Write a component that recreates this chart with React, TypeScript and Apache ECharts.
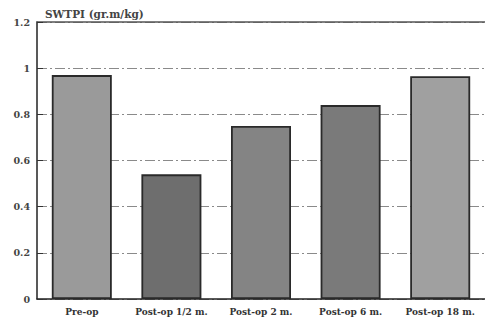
import React, { useEffect, useRef } from "react";
import * as echarts from "echarts";

const categories = ["Pre-op", "Post-op 1/2 m.", "Post-op 2 m.", "Post-op 6 m.", "Post-op 18 m."];
const values = [0.97, 0.54, 0.75, 0.84, 0.965];
const barColors = ["#9a9a9a", "#6e6e6e", "#848484", "#7a7a7a", "#a0a0a0"];
const yTicks = [0, 0.2, 0.4, 0.6, 0.8, 1, 1.2];
const yTitle = "SWTPI (gr.m/kg)";

export default function App() {
  const ref = useRef<HTMLDivElement>(null);
  useEffect(() => {
    const chart = echarts.init(ref.current!, null, { renderer: "svg" });
    chart.setOption({
      animation: false,
      backgroundColor: "#fff",
      grid: { left: 37, right: 0, top: 22, bottom: 23, containLabel: false },
      title: {
        text: yTitle,
        left: 40,
        top: 3,
        textStyle: { fontSize: 10.5, fontWeight: "bold", color: "#444", fontFamily: "DejaVu Serif" },
      },
      xAxis: [
        {
          type: "category",
          data: categories,
          axisLine: { lineStyle: { color: "#222", width: 1.5 } },
          axisTick: { show: false },
          axisLabel: {
            fontSize: 9,
            fontWeight: "bold",
            color: "#333",
            margin: 8,
            interval: 0,
            fontFamily: "DejaVu Serif",
          },
        },
        {
          type: "category",
          position: "top",
          data: categories,
          axisLine: { show: true, lineStyle: { color: "#555", width: 1.5 } },
          axisTick: { show: false },
          axisLabel: { show: false },
        },
      ],
      yAxis: {
        type: "value",
        min: 0,
        max: 1.2,
        interval: 0.2,
        axisLine: { show: true, lineStyle: { color: "#222", width: 1.5 } },
        axisTick: { show: true, inside: true, length: 6, lineStyle: { color: "#333" } },
        axisLabel: {
          fontSize: 9.5,
          fontWeight: "bold",
          color: "#444",
          margin: 7,
          fontFamily: "DejaVu Serif",
          formatter: (v: number) => {
            const t = yTicks.find((x) => Math.abs(x - v) < 1e-6);
            return t === undefined ? "" : String(Number(t.toFixed(1)));
          },
        },
        splitLine: {
          show: true,
          lineStyle: { color: "#8a8a8a", type: [10, 3, 2, 3], width: 1 },
        },
      },
      series: [
        {
          type: "bar",
          barWidth: 60,
          data: values.map((v, i) => ({
            value: v,
            itemStyle: { color: barColors[i], borderColor: "#2a2a2a", borderWidth: 1.8 },
          })),
        },
      ],
    });
    return () => chart.dispose();
  }, []);
  return (
    <div
      ref={ref}
      style={{ position: "absolute", left: 0, top: 0, width: 485, height: 322 }}
    />
  );
}
